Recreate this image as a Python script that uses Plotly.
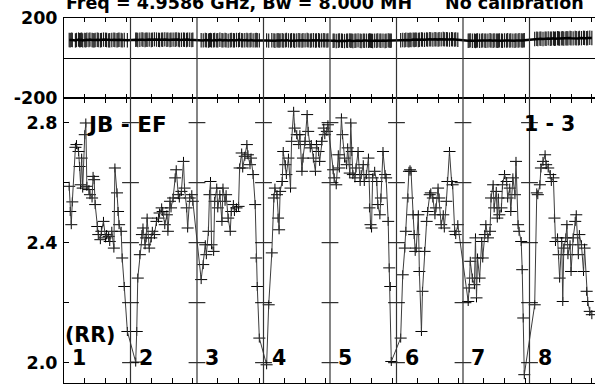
import plotly.graph_objects as go

# ---------------- data ----------------
N_CH = 64                      # channels per IF
IF_NAMES = ["1", "2", "3", "4", "5", "6", "7", "8"]
BASELINE = "JB - EF"
STOKES = "(RR)"
SOURCE_LABEL = "1 - 3"
TITLE_LEFT = "Freq = 4.9586 GHz, Bw = 8.000 MH"
TITLE_RIGHT = "No calibration"

ch_if1 = [5, 6, 7, 8, 11, 12, 14, 15, 16, 17, 18, 20, 21, 22, 24, 25, 27, 28, 29, 30,
          32, 33, 35, 36, 38, 40, 41, 43, 44, 46, 48, 49, 51, 52, 53, 55, 56, 58, 61]
amp_if1 = [2.588, 2.504, 2.460, 2.536, 2.718, 2.727, 2.704, 2.654, 2.593, 2.682,
           2.582, 2.760, 2.799, 2.588, 2.577, 2.560, 2.549, 2.621, 2.610, 2.527,
           2.454, 2.427, 2.410, 2.438, 2.471, 2.416, 2.427, 2.421, 2.404, 2.438,
           2.382, 2.649, 2.566, 2.504, 2.460, 2.438, 2.349, 2.254, 2.104]
ph_if1 = [90, 89, 91, 90, 88, 90, 92, 89, 90, 91, 88, 90, 89, 91, 90, 92, 90, 89, 88, 90,
          91, 90, 89, 90, 92, 91, 90, 88, 89, 90, 91, 90, 89, 90, 91, 90, 88, 90, 89]

ch_if2 = [5, 6, 7, 9, 11, 12, 14, 15, 16, 18, 20, 21, 23, 25, 27, 28, 30, 31, 33, 35,
          36, 38, 39, 41, 43, 44, 46, 47, 49, 51, 52, 54, 55, 57, 59, 60]
amp_if2 = [2.002, 2.104, 2.282, 2.360, 2.427, 2.449, 2.393, 2.416, 2.482, 2.382,
           2.416, 2.438, 2.427, 2.471, 2.482, 2.499, 2.516, 2.504, 2.460, 2.493,
           2.438, 2.538, 2.516, 2.549, 2.616, 2.643, 2.560, 2.549, 2.571, 2.671,
           2.582, 2.516, 2.449, 2.549, 2.560, 2.538]
ph_if2 = [91, 92, 90, 91, 93, 91, 90, 92, 91, 92, 90, 91, 93, 92, 91, 90, 92, 91, 93, 91,
          92, 90, 91, 92, 91, 93, 92, 90, 91, 92, 91, 90, 92, 91, 90, 91]

ch_if3 = [4, 6, 8, 9, 11, 12, 13, 14, 16, 17, 19, 20, 22, 24, 25, 27, 28, 30, 32, 33,
          35, 36, 38, 40, 41, 43, 44, 46, 48, 49, 51, 52, 54, 56, 57, 58, 60]
amp_if3 = [2.277, 2.327, 2.393, 2.360, 2.438, 2.560, 2.604, 2.393, 2.371, 2.538,
           2.582, 2.516, 2.560, 2.471, 2.582, 2.538, 2.560, 2.482, 2.438, 2.504,
           2.527, 2.504, 2.516, 2.521, 2.649, 2.699, 2.649, 2.688, 2.727, 2.693,
           2.660, 2.682, 2.627, 2.527, 2.349, 2.254, 2.082]
ph_if3 = [89, 88, 90, 89, 87, 89, 90, 88, 89, 90, 88, 89, 91, 89, 88, 90, 89, 87, 89, 90,
          89, 88, 90, 89, 91, 89, 88, 89, 90, 88, 89, 90, 88, 89, 90, 89, 88]

ch_if4 = [3, 5, 8, 10, 11, 13, 14, 15, 16, 18, 19, 21, 22, 24, 26, 27, 29, 30, 32, 34,
          35, 37, 38, 40, 42, 43, 45, 46, 48, 50, 51, 53, 54, 56, 58, 59, 61, 62]
amp_if4 = [1.993, 2.193, 2.366, 2.549, 2.582, 2.560, 2.482, 2.443, 2.571, 2.604,
           2.704, 2.660, 2.627, 2.682, 2.582, 2.738, 2.838, 2.782, 2.760, 2.727,
           2.760, 2.638, 2.682, 2.738, 2.827, 2.771, 2.716, 2.727, 2.682, 2.638,
           2.727, 2.704, 2.671, 2.738, 2.782, 2.760, 2.771, 2.793]
ph_if4 = [88, 87, 89, 88, 86, 88, 89, 87, 88, 89, 87, 88, 90, 88, 87, 89, 88, 86, 88, 89,
          88, 87, 89, 88, 90, 88, 87, 88, 89, 87, 88, 89, 87, 88, 89, 88, 87, 88]

ch_if5 = [3, 4, 6, 8, 9, 11, 12, 14, 16, 17, 19, 20, 21, 22, 24, 25, 27, 29, 30, 32,
          33, 35, 37, 38, 39, 40, 41, 43, 45, 46, 48, 49, 51, 53, 54, 56, 57, 58, 59]
amp_if5 = [2.643, 2.616, 2.593, 2.693, 2.649, 2.816, 2.760, 2.682, 2.660, 2.716,
           2.632, 2.799, 2.704, 2.627, 2.616, 2.649, 2.704, 2.604, 2.627, 2.660,
           2.604, 2.627, 2.682, 2.516, 2.460, 2.449, 2.616, 2.638, 2.604, 2.527,
           2.493, 2.549, 2.704, 2.627, 2.616, 2.471, 2.316, 2.254, 2.004]
ph_if5 = [86, 87, 85, 86, 88, 87, 86, 85, 87, 86, 88, 86, 87, 85, 86, 87, 88, 86, 85, 87,
          86, 87, 86, 88, 87, 86, 85, 87, 86, 88, 87, 86, 87, 85, 86, 88, 87, 86, 87]

ch_if6 = [4, 6, 8, 9, 11, 12, 13, 14, 16, 17, 18, 19, 21, 22, 24, 25, 27, 29, 30, 32,
          33, 35, 37, 38, 40, 41, 43, 45, 46, 48, 49, 51, 53, 54, 56, 57, 59]
amp_if6 = [2.082, 2.293, 2.382, 2.438, 2.549, 2.638, 2.643, 2.638, 2.493, 2.427,
           2.371, 2.382, 2.493, 2.304, 2.104, 2.238, 2.371, 2.471, 2.504, 2.560,
           2.566, 2.549, 2.493, 2.516, 2.582, 2.549, 2.460, 2.493, 2.449, 2.538,
           2.604, 2.704, 2.604, 2.593, 2.438, 2.427, 2.460]
ph_if6 = [89, 90, 89, 91, 90, 89, 91, 90, 92, 90, 91, 92, 90, 91, 93, 92, 91, 93, 92, 94,
          93, 92, 94, 93, 92, 94, 93, 95, 93, 94, 93, 92, 94, 93, 92, 93, 91]

ch_if7 = [5, 6, 7, 9, 11, 12, 13, 14, 16, 18, 19, 21, 22, 24, 26, 27, 29, 30, 32, 33,
          34, 35, 37, 38, 40, 42, 43, 45, 46, 48, 50, 51, 53, 54, 56, 57, 58, 59]
amp_if7 = [2.204, 2.249, 2.338, 2.282, 2.260, 2.416, 2.216, 2.349, 2.282, 2.404,
           2.349, 2.427, 2.460, 2.416, 2.438, 2.549, 2.593, 2.516, 2.571, 2.482,
           2.549, 2.493, 2.516, 2.593, 2.627, 2.604, 2.549, 2.582, 2.504, 2.616,
           2.560, 2.671, 2.460, 2.438, 2.404, 2.310, 2.149, 1.960]
ph_if7 = [86, 87, 88, 86, 87, 85, 87, 88, 86, 87, 88, 87, 86, 87, 89, 87, 86, 88, 87, 86,
          87, 88, 87, 86, 88, 87, 89, 87, 88, 87, 86, 88, 87, 89, 88, 87, 88, 89]

ch_if8 = [5, 7, 8, 10, 11, 13, 15, 16, 18, 20, 21, 23, 24, 25, 27, 28, 29, 31, 32, 33,
          35, 36, 37, 39, 40, 42, 44, 45, 47, 48, 50, 52, 53, 55, 56, 58, 60]
amp_if8 = [2.193, 2.566, 2.560, 2.593, 2.649, 2.671, 2.693, 2.660, 2.649, 2.627,
           2.604, 2.616, 2.482, 2.404, 2.416, 2.360, 2.282, 2.404, 2.204, 2.382,
           2.416, 2.460, 2.360, 2.393, 2.304, 2.416, 2.471, 2.493, 2.360, 2.427,
           2.393, 2.304, 2.382, 2.238, 2.204, 2.171, 2.160]
ph_if8 = [95, 96, 95, 97, 96, 95, 97, 96, 98, 96, 97, 98, 96, 97, 99, 98, 97, 98, 99, 97,
          98, 99, 98, 100, 99, 98, 100, 99, 98, 100, 99, 101, 100, 99, 100, 101, 100]

AMP_TICKS = [2.0, 2.2, 2.4, 2.6, 2.8]
AMP_TICK_TEXT = ["2.0", "", "2.4", "", "2.8"]
PH_TICKS = [-200, 0, 200]
PH_TICK_TEXT = ["-200", "", "200"]
CH_TICKS = [20, 40, 60]

# ---------------- assemble ----------------
channels = [ch_if1, ch_if2, ch_if3, ch_if4, ch_if5, ch_if6, ch_if7, ch_if8]
amps = [amp_if1, amp_if2, amp_if3, amp_if4, amp_if5, amp_if6, amp_if7, amp_if8]
phases = [ph_if1, ph_if2, ph_if3, ph_if4, ph_if5, ph_if6, ph_if7, ph_if8]

xs, ya, yp = [], [], []
for k, (chs, am, ph) in enumerate(zip(channels, amps, phases)):
    for c, a, p in zip(chs, am, ph):
        xs.append(k * N_CH + c)
        ya.append(a)
        yp.append(p)

n_if = len(IF_NAMES)
W, H = 595, 384
L, R, T, B = 64, 0, 18, 1
PW, PH = W - L - R, H - T - B
PHASE_PX = 80
split = 1 - PHASE_PX / PH

def pxx(px):
    return (px - L) / PW

def pxy(py):
    return (T + PH - py) / PH

FONT = "DejaVu Sans"
fig = go.Figure()

# amplitude spectrum with error crosses
fig.add_trace(go.Scatter(
    x=xs, y=ya, mode="lines", xaxis="x", yaxis="y",
    line=dict(color="#3c3c3c", width=1),
    error_x=dict(type="constant", value=5.8, width=0, thickness=1, color="black"),
    error_y=dict(type="constant", value=0.015, width=0, thickness=1, color="black"),
    hoverinfo="skip", showlegend=False))

# phase spectrum
fig.add_trace(go.Scatter(
    x=xs, y=yp, mode="lines", xaxis="x2", yaxis="y2",
    line=dict(color="black", width=2.5),
    error_y=dict(type="constant", value=36, width=0, thickness=1.2, color="#1e1e1e"),
    hoverinfo="skip", showlegend=False))

# IF separator tick marks
sep_x, sep_y = [], []
for k in range(1, n_if):
    for v in AMP_TICKS:
        sep_x.append(k * N_CH)
        sep_y.append(v)
fig.add_trace(go.Scatter(
    x=sep_x, y=sep_y, mode="markers", xaxis="x", yaxis="y",
    marker=dict(symbol="line-ew", size=12, line=dict(width=1, color="black")),
    hoverinfo="skip", showlegend=False))

shapes = []
for k in range(1, n_if):
    shapes.append(dict(type="line", xref="x", yref="paper", x0=k * N_CH, x1=k * N_CH,
                       y0=0, y1=1, line=dict(color="#333333", width=1.2)))

xt = [k * N_CH + c for k in range(n_if) for c in CH_TICKS]
xrange = [0, PW / (66.5 / N_CH)]

axis_common = dict(showline=True, linecolor="black", linewidth=1, ticks="inside",
                   tickcolor="black", tickwidth=1, showgrid=False, automargin=False)

annotations = [
    dict(text=TITLE_LEFT, x=pxx(65.5), y=pxy(3), xanchor="left", yanchor="middle",
         font=dict(size=17.5)),
    dict(text=TITLE_RIGHT, x=pxx(445), y=pxy(3), xanchor="left", yanchor="middle",
         font=dict(size=17.5)),
    dict(text=BASELINE, x=pxx(87), y=pxy(124), xanchor="left", yanchor="middle",
         font=dict(size=21.5)),
    dict(text=SOURCE_LABEL, x=pxx(524), y=pxy(124), xanchor="left", yanchor="middle",
         font=dict(size=20.5)),
    dict(text=STOKES, x=pxx(64.7), y=pxy(334.5), xanchor="left", yanchor="middle",
         font=dict(size=20.5)),
]
for k, name in enumerate(IF_NAMES):
    annotations.append(dict(text=name, x=pxx(L + 66.5 * k + 8), y=pxy(357.5),
                            xanchor="left", yanchor="middle", font=dict(size=20.5)))
for a in annotations:
    a.update(xref="paper", yref="paper", showarrow=False, borderpad=0, borderwidth=0)
    a["font"].update(family=FONT, color="black", weight="bold")

fig.update_layout(
    width=W, height=H, margin=dict(l=L, r=R, t=T, b=B, pad=0, autoexpand=False),
    paper_bgcolor="white", plot_bgcolor="white",
    xaxis=dict(domain=[0, 1], range=xrange, anchor="y", tickvals=xt, ticklen=5,
               showticklabels=False, mirror="ticks", zeroline=False, **axis_common),
    xaxis2=dict(domain=[0, 1], range=xrange, anchor="y2", tickvals=xt, ticklen=4,
                showticklabels=False, mirror="ticks", zeroline=False, **axis_common),
    yaxis=dict(domain=[0, split], range=[1.9323, 2.8823], anchor="x",
               tickvals=AMP_TICKS, ticktext=AMP_TICK_TEXT, ticklen=5, zeroline=False,
               ticklabelstandoff=2,
               tickfont=dict(family=FONT, size=17.5, color="black", weight="bold"),
               **axis_common),
    yaxis2=dict(domain=[split, 1], range=[-200, 200], anchor="x2",
                tickvals=PH_TICKS, ticktext=PH_TICK_TEXT, ticklen=5,
                zeroline=True, zerolinecolor="black", zerolinewidth=1,
                ticklabelstandoff=2,
                tickfont=dict(family=FONT, size=17.5, color="black", weight="bold"),
                **axis_common),
    shapes=shapes, annotations=annotations, showlegend=False,
)

fig.write_html("out.html",
               config={"displayModeBar": False, "staticPlot": True},
               post_script="document.body.style.margin='0';document.body.style.padding='0';")
